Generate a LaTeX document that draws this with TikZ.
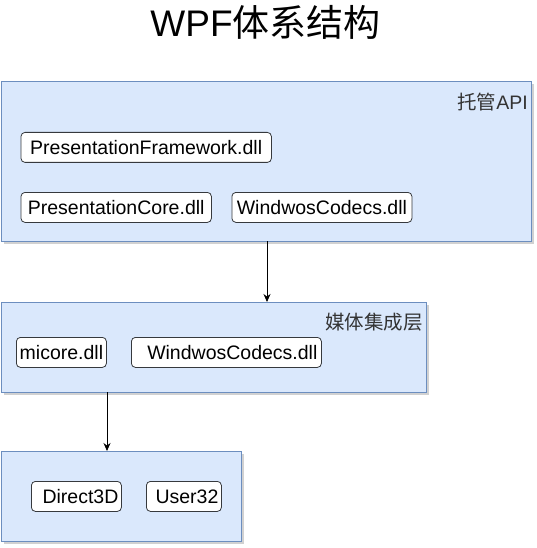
\documentclass[tikz,border=0pt]{standalone}
\usepackage{fontspec}
\setmainfont{Liberation Sans}
\newfontfamily\cjk{Noto Sans CJK SC}
\usetikzlibrary{arrows.meta,shadows}
\definecolor{layerfill}{HTML}{DAE8FC}
\definecolor{layerline}{HTML}{6C8EBF}
\definecolor{boxline}{HTML}{36393D}
\definecolor{lbl}{HTML}{333333}
\tikzset{
  layer/.style={draw=layerline, fill=layerfill, line width=0.8pt, anchor=north west, inner sep=0pt,
    drop shadow={shadow xshift=3pt, shadow yshift=-3pt, fill=black, opacity=0.18}},
  dllbox/.style={draw=boxline, fill=white, line width=0.8pt, rounded corners=4pt, anchor=north west,
    minimum height=30pt, inner ysep=0pt, inner xsep=3pt, font=\fontsize{19.5}{22}\selectfont},
  layerlabel/.style={anchor=east, text=lbl, inner sep=0pt, font=\fontsize{19.5}{22}\selectfont},
  arr/.style={draw=black, line width=0.8pt, -{Stealth[length=8pt, width=7pt]}}
}
\begin{document}
\begin{tikzpicture}[x=1pt, y=-1pt]
\useasboundingbox (0,0) rectangle (537,548);
% title
\node[inner sep=0pt] (title) at (265.5,22)
  {\fontsize{37}{40}\selectfont WPF{\cjk 体系结构}};
% layers
\node[layer, minimum width=530pt, minimum height=160pt] (api) at (1,81) {};
\node[layer, minimum width=425pt, minimum height=90pt] (mil) at (1,302) {};
\node[layer, minimum width=240pt, minimum height=90pt] (bot) at (1,451) {};
% labels
\node[layerlabel] (apilbl) at (528,102) {{\cjk 托管}API};
\node[layerlabel] (millbl) at (423,322) {\cjk 媒体集成层};
% dll boxes
\node[dllbox, minimum width=250.4pt] (pf) at (20.6,132) {PresentationFramework.dll};
\node[dllbox, minimum width=190.4pt] (pc) at (20.6,192) {PresentationCore.dll};
\node[dllbox, minimum width=180pt] (wc1) at (231.5,192) {WindwosCodecs.dll};
\node[dllbox, minimum width=90pt] (mi) at (16,337) {micore.dll};
\node[dllbox, text width=182pt, align=right, inner xsep=4pt] (wc2) at (131,337) {WindwosCodecs.dll};
\node[dllbox, text width=84pt, align=right] (d3d) at (31,481) {Direct3D};
\node[dllbox, text width=69pt, align=right] (u32) at (146,481) {User32};
% connectors
\coordinate (a1) at (267,241);
\coordinate (a2) at (107,392);
\draw[arr] (a1) -- (a1 |- mil.north);
\draw[arr] (a2) -- (a2 |- bot.north);
\end{tikzpicture}
\end{document}
